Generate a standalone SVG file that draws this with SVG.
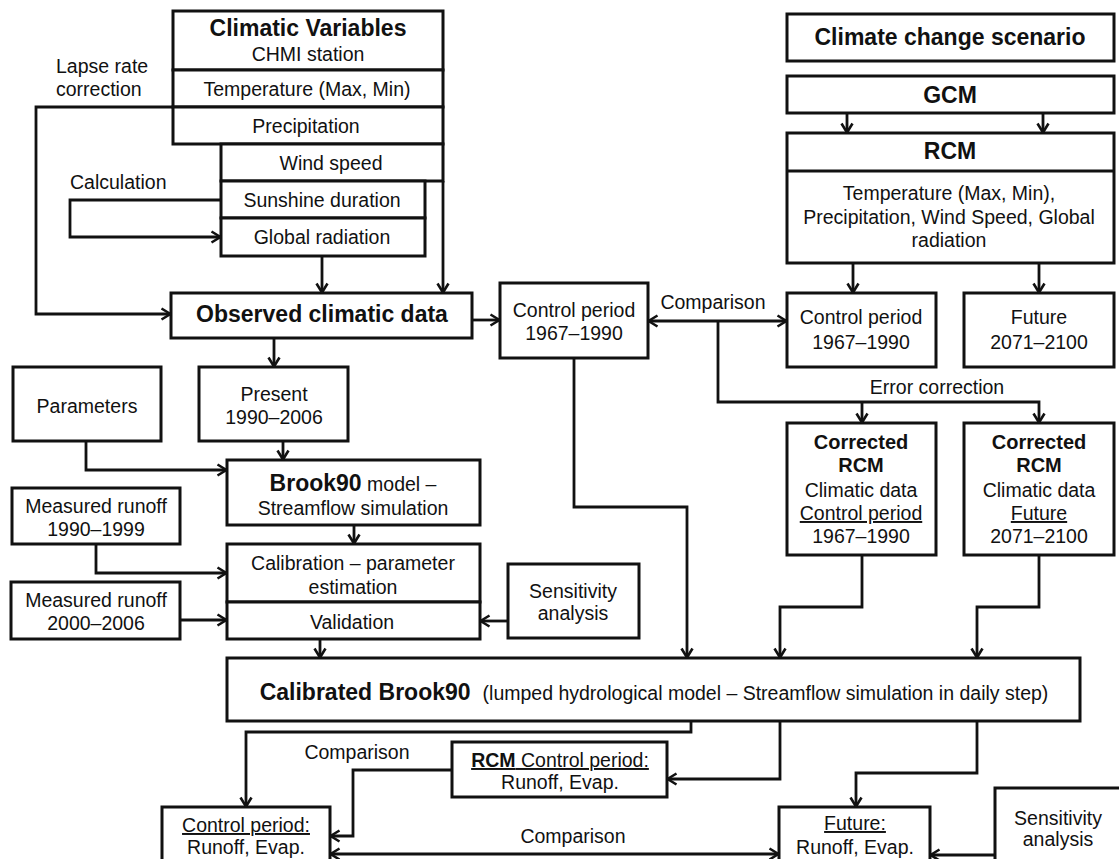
<svg xmlns="http://www.w3.org/2000/svg" width="1119" height="859" viewBox="0 0 1119 859">
<style>
text{font-family:"Liberation Sans",Arial,sans-serif;font-size:19.5px;fill:#111;text-anchor:middle}
.b{font-weight:bold;font-size:23px}
.bs{font-weight:bold;font-size:20px}
.l{text-anchor:start}
.u{text-decoration:underline}
rect{fill:#fff;stroke:#111;stroke-width:3}
.c path,.c line{fill:none;stroke:#111;stroke-width:2.8}
</style>
<defs>
<marker id="a" viewBox="0 0 12 14" refX="11" refY="7" markerWidth="12" markerHeight="14" markerUnits="userSpaceOnUse" orient="auto-start-reverse">
<path d="M1.5,1.5 L10.5,7 L1.5,12.5" fill="none" stroke="#111" stroke-width="2.6" stroke-linejoin="miter"/>
</marker>
</defs>
<rect x="0" y="0" width="1119" height="859" style="stroke:none"/>

<g id="climatic-variables">
<rect x="173" y="11" width="270" height="59"/>
<text class="b" x="308" y="36">Climatic Variables</text>
<text x="308" y="61">CHMI station</text>
</g>
<g id="temperature">
<rect x="173" y="70" width="270" height="37"/>
<text x="307" y="96">Temperature (Max, Min)</text>
</g>
<g id="precipitation">
<rect x="173" y="107" width="270" height="37"/>
<text x="306" y="133">Precipitation</text>
</g>
<g id="wind-speed">
<rect x="221" y="144" width="222" height="37"/>
<text x="331" y="170">Wind speed</text>
</g>
<g id="sunshine">
<rect x="221" y="181" width="204" height="37"/>
<text x="322" y="207">Sunshine duration</text>
</g>
<g id="global-radiation">
<rect x="221" y="218" width="204" height="38"/>
<text x="322" y="244">Global radiation</text>
</g>

<g id="observed">
<rect x="171" y="293" width="301" height="45"/>
<text class="b" x="322" y="322">Observed climatic data</text>
</g>
<g id="control-mid">
<rect x="500" y="283" width="148" height="75"/>
<text x="574" y="317">Control period</text>
<text x="574" y="340">1967–1990</text>
</g>

<g id="scenario">
<rect x="787" y="14" width="327" height="47"/>
<text class="b" x="950" y="45">Climate change scenario</text>
</g>
<g id="gcm">
<rect x="787" y="76" width="327" height="37"/>
<text class="b" x="950" y="103">GCM</text>
</g>
<g id="rcm">
<rect x="787" y="133" width="327" height="130"/>
<line x1="787" y1="171" x2="1114" y2="171" stroke="#111" stroke-width="3"/>
<text class="b" x="950" y="159">RCM</text>
<text x="949" y="200">Temperature (Max, Min),</text>
<text x="949" y="224">Precipitation, Wind Speed, Global</text>
<text x="949" y="247">radiation</text>
</g>
<g id="control-rcm">
<rect x="787" y="293" width="149" height="74"/>
<text x="861" y="324">Control period</text>
<text x="861" y="349">1967–1990</text>
</g>
<g id="future-rcm">
<rect x="964" y="293" width="150" height="74"/>
<text x="1039" y="324">Future</text>
<text x="1039" y="349">2071–2100</text>
</g>
<g id="corrected-control">
<rect x="787" y="423" width="149" height="132"/>
<text class="bs" x="861" y="449">Corrected</text>
<text class="bs" x="861" y="472">RCM</text>
<text x="861" y="497">Climatic data</text>
<text class="u" x="861" y="520">Control period</text>
<text x="861" y="543">1967–1990</text>
</g>
<g id="corrected-future">
<rect x="964" y="423" width="150" height="132"/>
<text class="bs" x="1039" y="449">Corrected</text>
<text class="bs" x="1039" y="472">RCM</text>
<text x="1039" y="497">Climatic data</text>
<text class="u" x="1039" y="520">Future</text>
<text x="1039" y="543">2071–2100</text>
</g>

<g id="parameters">
<rect x="13" y="367" width="148" height="74"/>
<text x="87" y="413">Parameters</text>
</g>
<g id="present">
<rect x="199" y="367" width="149" height="74"/>
<text x="274" y="401">Present</text>
<text x="274" y="424">1990–2006</text>
</g>
<g id="brook90">
<rect x="227" y="460" width="253" height="65"/>
<text x="353" y="491"><tspan class="b">Brook90</tspan> model –</text>
<text x="353" y="515">Streamflow simulation</text>
</g>
<g id="calibration">
<rect x="227" y="544" width="253" height="58"/>
<text x="353" y="570">Calibration – parameter</text>
<text x="353" y="594">estimation</text>
</g>
<g id="validation">
<rect x="227" y="602" width="253" height="37"/>
<text x="352" y="629">Validation</text>
</g>
<g id="runoff-1990">
<rect x="12" y="488" width="168" height="56"/>
<text x="96" y="513">Measured runoff</text>
<text x="96" y="536">1990–1999</text>
</g>
<g id="runoff-2000">
<rect x="11" y="582" width="169" height="57"/>
<text x="96" y="607">Measured runoff</text>
<text x="96" y="630">2000–2006</text>
</g>
<g id="sensitivity-mid">
<rect x="508" y="564" width="131" height="74"/>
<text x="573" y="598">Sensitivity</text>
<text x="573" y="620">analysis</text>
</g>
<g id="calibrated">
<rect x="227" y="658" width="853" height="63"/>
<text x="654" y="700"><tspan class="b">Calibrated Brook90</tspan><tspan dx="12">(lumped hydrological model – Streamflow simulation in daily step)</tspan></text>
</g>
<g id="rcm-control-out">
<rect x="452" y="742" width="215" height="55"/>
<text class="u" x="560" y="767"><tspan font-weight="bold">RCM</tspan> Control period:</text>
<text x="560" y="789">Runoff, Evap.</text>
</g>
<g id="control-out">
<rect x="162" y="807" width="168" height="70"/>
<text class="u" x="246" y="832">Control period:</text>
<text x="246" y="854">Runoff, Evap.</text>
</g>
<g id="future-out">
<rect x="779" y="807" width="151" height="70"/>
<text class="u" x="855" y="830">Future:</text>
<text x="855" y="854">Runoff, Evap.</text>
</g>
<g id="sensitivity-bottom">
<rect x="995" y="788" width="140" height="90"/>
<text x="1058" y="825">Sensitivity</text>
<text x="1058" y="846">analysis</text>
</g>

<g id="labels">
<text class="l" x="56" y="73">Lapse rate</text>
<text class="l" x="56" y="96">correction</text>
<text class="l" x="70" y="189">Calculation</text>
<text x="713" y="309">Comparison</text>
<text x="937" y="394">Error correction</text>
<text x="357" y="759">Comparison</text>
<text x="573" y="843">Comparison</text>
</g>

<g id="connectors" class="c">
<path d="M173,107 H36 V314 H171" marker-end="url(#a)"/>
<path d="M221,200 H70 V237 H221" marker-end="url(#a)"/>
<path d="M322,256 V293" marker-end="url(#a)"/>
<path d="M443,181 V293" marker-end="url(#a)"/>
<path d="M274,338 V367" marker-end="url(#a)"/>
<path d="M472,320 H500" marker-end="url(#a)"/>
<path d="M648,321 H787" marker-start="url(#a)" marker-end="url(#a)"/>
<path d="M718,321 V402 H1039 V423" marker-end="url(#a)"/>
<path d="M862,402 V423" marker-end="url(#a)"/>
<path d="M847,113 V133" marker-end="url(#a)"/>
<path d="M1043,113 V133" marker-end="url(#a)"/>
<path d="M853,263 V293" marker-end="url(#a)"/>
<path d="M1039,263 V293" marker-end="url(#a)"/>
<path d="M86,441 V470 H227" marker-end="url(#a)"/>
<path d="M283,441 V460" marker-end="url(#a)"/>
<path d="M354,525 V544" marker-end="url(#a)"/>
<path d="M96,544 V573 H227" marker-end="url(#a)"/>
<path d="M180,620 H227" marker-end="url(#a)"/>
<path d="M508,621 H480" marker-end="url(#a)"/>
<path d="M320,639 V658" marker-end="url(#a)"/>
<path d="M574,358 V507 H687 V658" marker-end="url(#a)"/>
<path d="M862,555 V607 H780 V658" marker-end="url(#a)"/>
<path d="M1039,555 V607 H977 V658" marker-end="url(#a)"/>
<path d="M691,721 V732 H246 V807" marker-end="url(#a)"/>
<path d="M780,721 V779 H667" marker-end="url(#a)"/>
<path d="M977,721 V773 H856 V807" marker-end="url(#a)"/>
<path d="M452,770 H353 V836 H330" marker-end="url(#a)"/>
<path d="M330,854 H779" marker-start="url(#a)" marker-end="url(#a)"/>
<path d="M995,855 H930" marker-end="url(#a)"/>
</g>
</svg>
